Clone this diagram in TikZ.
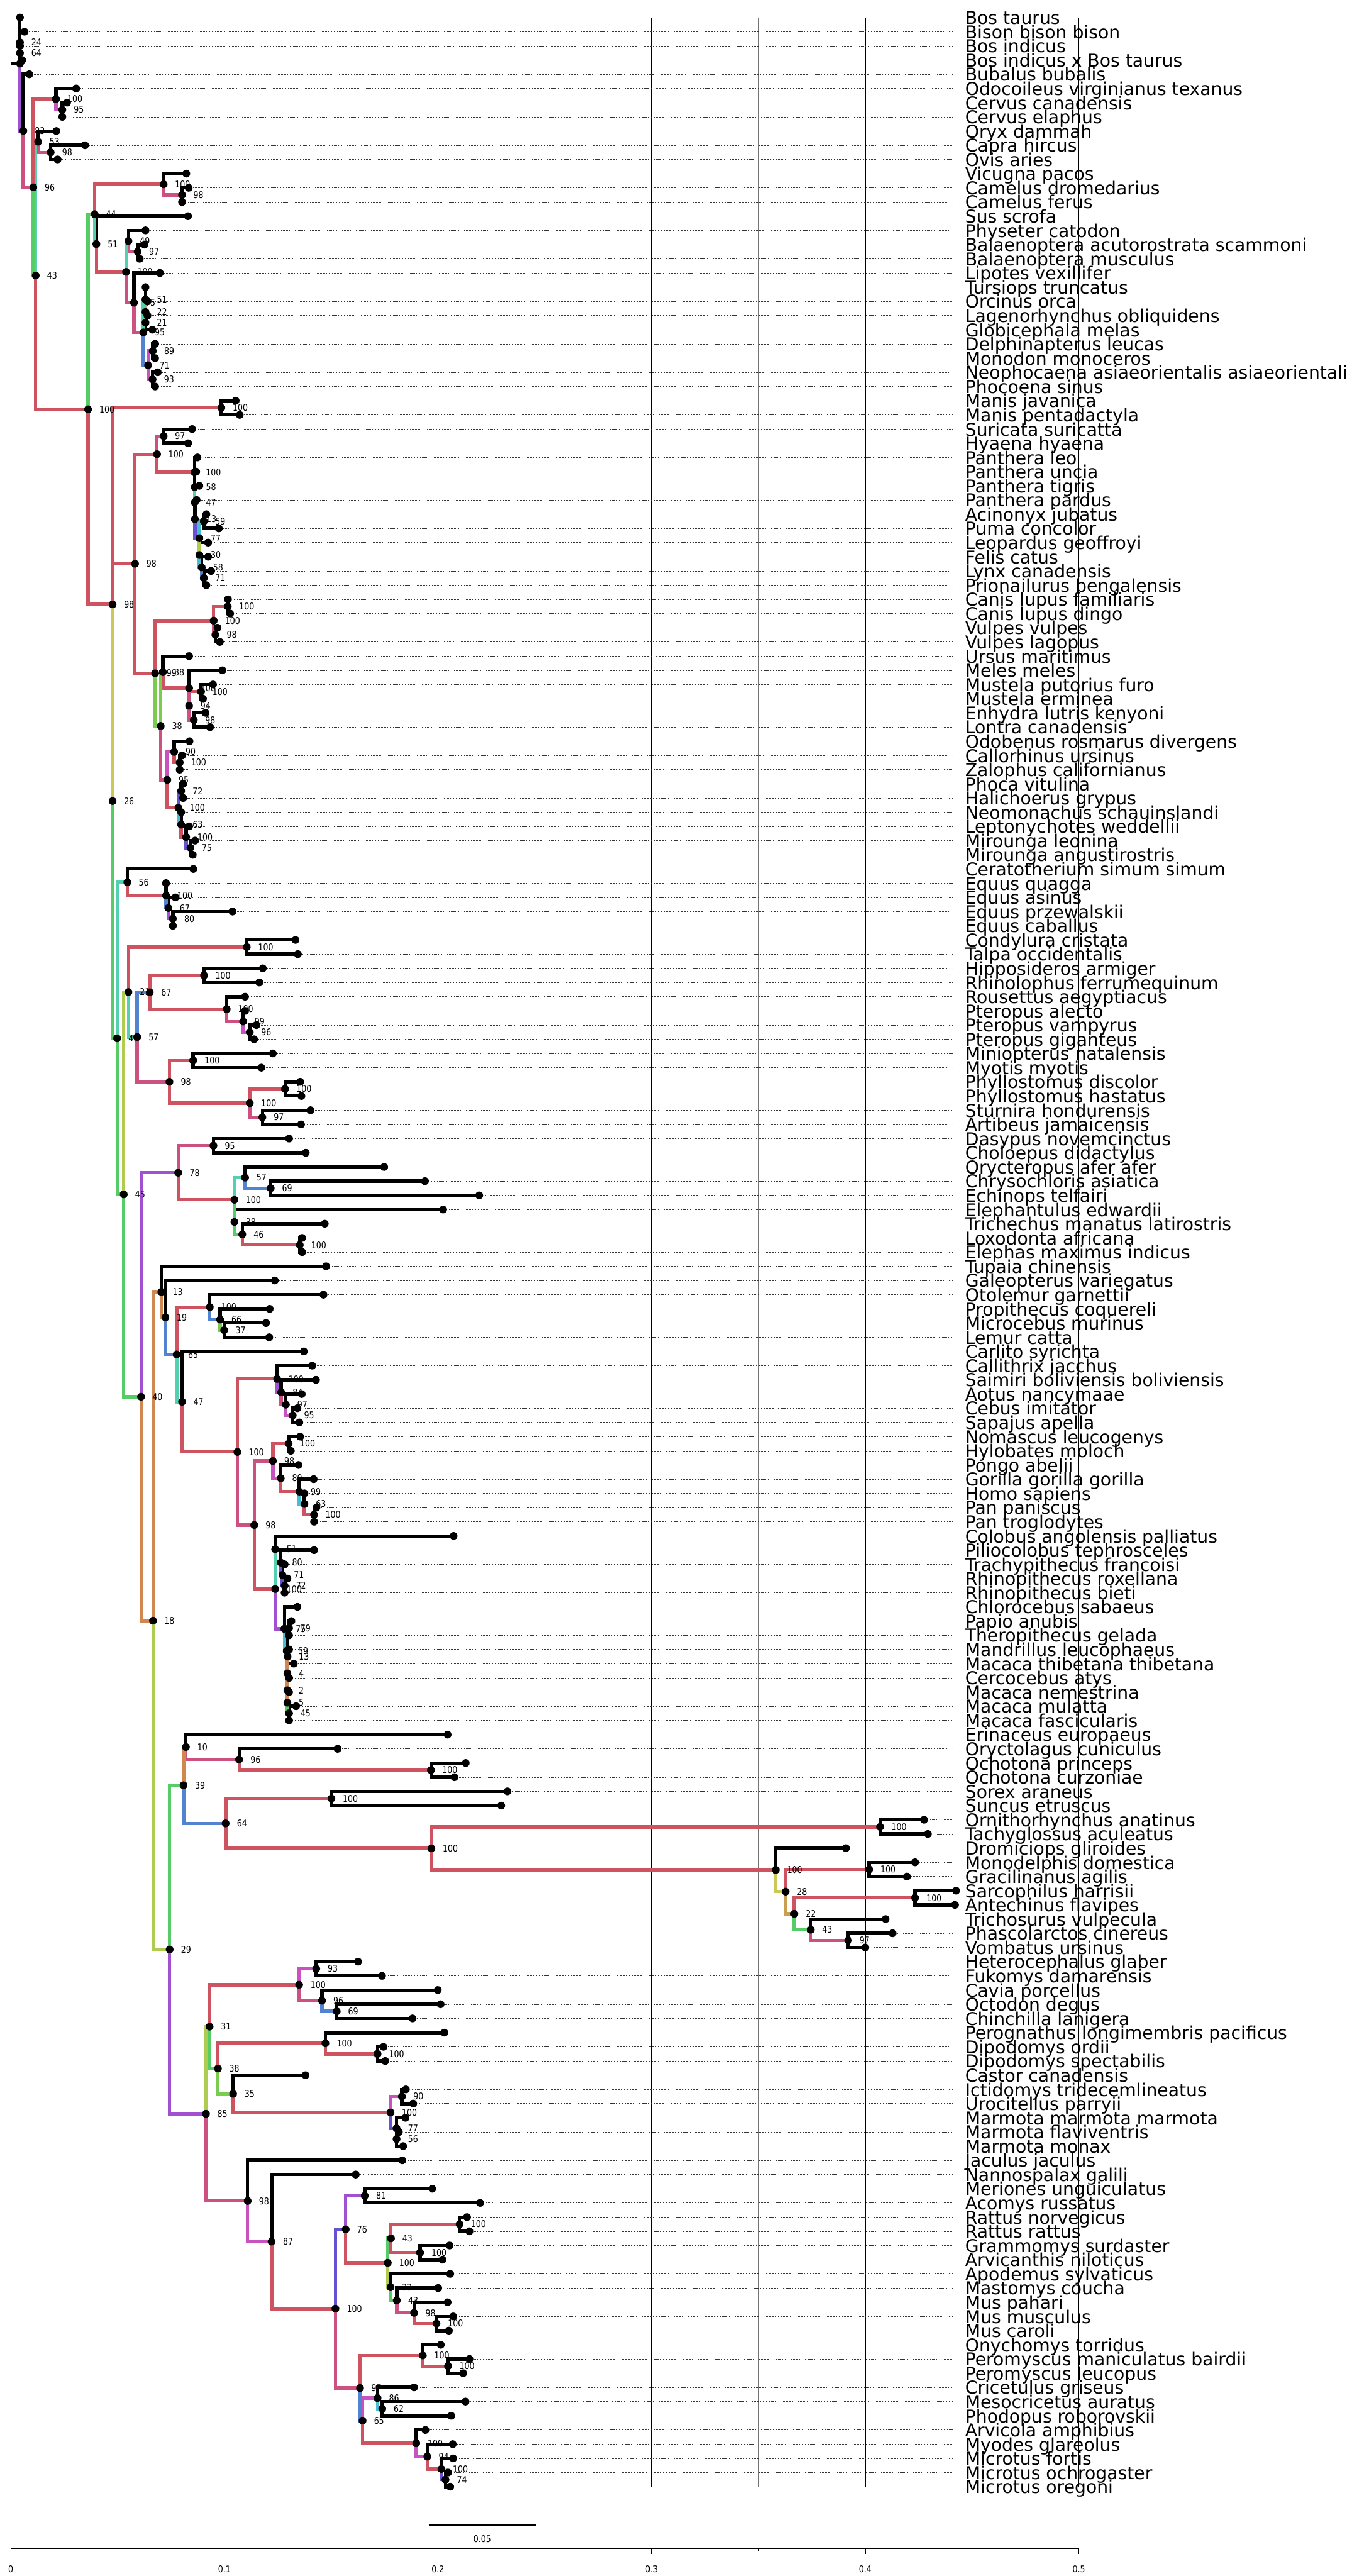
\documentclass[tikz,border=0pt]{standalone}
\usepackage{fontspec}
\setmainfont{DejaVu Sans}
\newfontfamily\supfont[FakeStretch=0.85]{DejaVu Sans}
\definecolor{cR}{HTML}{CD5360}
\definecolor{cP}{HTML}{CC5080}
\definecolor{cM}{HTML}{C852C0}
\definecolor{cV}{HTML}{A050D0}
\definecolor{cB}{HTML}{6652D0}
\definecolor{cBl}{HTML}{5283D0}
\definecolor{cT}{HTML}{52D0B0}
\definecolor{cC}{HTML}{48BCD0}
\definecolor{cG}{HTML}{55CC66}
\definecolor{cLG}{HTML}{7ACC50}
\definecolor{cYG}{HTML}{B0CC50}
\definecolor{cY}{HTML}{CCC855}
\definecolor{cO}{HTML}{D08850}
\definecolor{cGd}{HTML}{C8A050}
\newcounter{row}
% first pass: positions, dotted rows and branches
\newcommand\tipA[3]{%
  \coordinate (#1) at (#2,\therow);
  \expandafter\xdef\csname ky@#1\endcsname{\therow}%
  \expandafter\gdef\csname kc@#1\endcsname{black}%
  \pgfmathsetmacro\xe{max(#2,0.4409)}%
  \draw[rowline] (#1) -- (\xe,\therow);
  \stepcounter{row}}
\newcommand\cladeA[6]{%
  \pgfmathsetmacro\kk{(\csname ky@#5\endcsname+\csname ky@#6\endcsname)/2}%
  \expandafter\xdef\csname ky@#1\endcsname{\kk}%
  \expandafter\gdef\csname kc@#1\endcsname{#3}%
  \coordinate (#1) at (#2,\kk);
  \edef\ca{\csname kc@#5\endcsname}\edef\cb{\csname kc@#6\endcsname}%
  \draw[branch,draw=\ca] (#1) |- (#5);
  \draw[branch,draw=\cb] (#1) |- (#6);}
% second pass: dots and texts
\newcommand\tipB[3]{%
  \fill (#1) circle[radius=0.115cm];
  \node[leaf] (l#1) at (0.44666,\csname ky@#1\endcsname+0.478) {#3};}
\newcommand\cladeB[6]{%
  \fill (#1) circle[radius=0.115cm];
  \node[sup] (s#1) at (#1) {#4};}
\newcommand\treedata{%
\tip{bostau}{0.00434}{Bos taurus}
\tip{bisbis}{0.00646}{Bison bison bison}
\tip{bosind}{0.00434}{Bos indicus}
\tip{bosixt}{0.00535}{Bos indicus x Bos taurus}
\tip{bubbub}{0.00869}{Bubalus bubalis}
\tip{odovir}{0.03062}{Odocoileus virginianus texanus}
\tip{cercan}{0.02639}{Cervus canadensis}
\tip{cerela}{0.02416}{Cervus elaphus}
\tip{orydam}{0.02138}{Oryx dammah}
\tip{caphir}{0.03474}{Capra hircus}
\tip{oviari}{0.02194}{Ovis aries}
\tip{vicpac}{0.08218}{Vicugna pacos}
\tip{camdro}{0.0833}{Camelus dromedarius}
\tip{camfer}{0.0802}{Camelus ferus}
\tip{susscr}{0.08296}{Sus scrofa}
\tip{phycat}{0.0631}{Physeter catodon}
\tip{balacu}{0.0626}{Balaenoptera acutorostrata scammoni}
\tip{balmus}{0.0604}{Balaenoptera musculus}
\tip{lipvex}{0.0698}{Lipotes vexillifer}
\tip{turtru}{0.0631}{Tursiops truncatus}
\tip{orcorc}{0.0640}{Orcinus orca}
\tip{lagobl}{0.0640}{Lagenorhynchus obliquidens}
\tip{glomel}{0.0663}{Globicephala melas}
\tip{delleu}{0.0676}{Delphinapterus leucas}
\tip{monmon}{0.0676}{Monodon monoceros}
\tip{neoasi}{0.0688}{Neophocaena asiaeorientalis asiaeorientalis}
\tip{phosin}{0.0676}{Phocoena sinus}
\tip{manjav}{0.1053}{Manis javanica}
\tip{manpen}{0.1072}{Manis pentadactyla}
\tip{sursur}{0.0849}{Suricata suricatta}
\tip{hyahya}{0.0830}{Hyaena hyaena}
\tip{panleo}{0.0874}{Panthera leo}
\tip{panunc}{0.0868}{Panthera uncia}
\tip{pantig}{0.0883}{Panthera tigris}
\tip{panpar}{0.0870}{Panthera pardus}
\tip{acijub}{0.0916}{Acinonyx jubatus}
\tip{pumcon}{0.0974}{Puma concolor}
\tip{leogeo}{0.0924}{Leopardus geoffroyi}
\tip{felcat}{0.0924}{Felis catus}
\tip{lyncan}{0.0938}{Lynx canadensis}
\tip{priben}{0.0916}{Prionailurus bengalensis}
\tip{canfam}{0.1017}{Canis lupus familiaris}
\tip{candin}{0.1027}{Canis lupus dingo}
\tip{vulvul}{0.0968}{Vulpes vulpes}
\tip{vullag}{0.0979}{Vulpes lagopus}
\tip{ursmar}{0.0835}{Ursus maritimus}
\tip{melmel}{0.0991}{Meles meles}
\tip{musput}{0.0947}{Mustela putorius furo}
\tip{muserm}{0.0900}{Mustela erminea}
\tip{enhlut}{0.0912}{Enhydra lutris kenyoni}
\tip{loncan}{0.0933}{Lontra canadensis}
\tip{odoros}{0.0837}{Odobenus rosmarus divergens}
\tip{calurs}{0.0802}{Callorhinus ursinus}
\tip{zalcal}{0.0791}{Zalophus californianus}
\tip{phovit}{0.0807}{Phoca vitulina}
\tip{halgry}{0.0807}{Halichoerus grypus}
\tip{neosch}{0.0798}{Neomonachus schauinslandi}
\tip{lepwed}{0.0835}{Leptonychotes weddellii}
\tip{mirleo}{0.0863}{Mirounga leonina}
\tip{mirang}{0.0852}{Mirounga angustirostris}
\tip{cersim}{0.0855}{Ceratotherium simum simum}
\tip{eququa}{0.0727}{Equus quagga}
\tip{equasi}{0.0771}{Equus asinus}
\tip{equprz}{0.1038}{Equus przewalskii}
\tip{equcab}{0.0759}{Equus caballus}
\tip{concri}{0.1333}{Condylura cristata}
\tip{talocc}{0.1344}{Talpa occidentalis}
\tip{hiparm}{0.1180}{Hipposideros armiger}
\tip{rhifer}{0.1164}{Rhinolophus ferrumequinum}
\tip{rouaeg}{0.1097}{Rousettus aegyptiacus}
\tip{pteale}{0.1097}{Pteropus alecto}
\tip{ptevam}{0.1150}{Pteropus vampyrus}
\tip{ptegig}{0.1139}{Pteropus giganteus}
\tip{minnat}{0.1227}{Miniopterus natalensis}
\tip{myomyo}{0.1173}{Myotis myotis}
\tip{phydis}{0.1355}{Phyllostomus discolor}
\tip{phyhas}{0.1361}{Phyllostomus hastatus}
\tip{stuhon}{0.1403}{Sturnira hondurensis}
\tip{artjam}{0.1359}{Artibeus jamaicensis}
\tip{dasnov}{0.1303}{Dasypus novemcinctus}
\tip{choldi}{0.1381}{Choloepus didactylus}
\tip{oryafe}{0.1748}{Orycteropus afer afer}
\tip{chrasi}{0.1939}{Chrysochloris asiatica}
\tip{echtel}{0.2193}{Echinops telfairi}
\tip{eleedw}{0.2024}{Elephantulus edwardii}
\tip{trimam}{0.1470}{Trichechus manatus latirostris}
\tip{loxafr}{0.1364}{Loxodonta africana}
\tip{elemax}{0.1364}{Elephas maximus indicus}
\tip{tupchi}{0.1476}{Tupaia chinensis}
\tip{galvar}{0.1236}{Galeopterus variegatus}
\tip{otogar}{0.1464}{Otolemur garnettii}
\tip{procoq}{0.1212}{Propithecus coquereli}
\tip{micmur}{0.1195}{Microcebus murinus}
\tip{lemcat}{0.1210}{Lemur catta}
\tip{carsyr}{0.1372}{Carlito syrichta}
\tip{caljac}{0.1411}{Callithrix jacchus}
\tip{saibol}{0.1429}{Saimiri boliviensis boliviensis}
\tip{aotnan}{0.1362}{Aotus nancymaae}
\tip{cebimi}{0.1342}{Cebus imitator}
\tip{sapape}{0.1351}{Sapajus apella}
\tip{nomleu}{0.1355}{Nomascus leucogenys}
\tip{hylmol}{0.1311}{Hylobates moloch}
\tip{ponabe}{0.1347}{Pongo abelii}
\tip{gorgor}{0.1418}{Gorilla gorilla gorilla}
\tip{homsap}{0.1375}{Homo sapiens}
\tip{panpan}{0.1431}{Pan paniscus}
\tip{pantro}{0.1420}{Pan troglodytes}
\tip{colang}{0.2073}{Colobus angolensis palliatus}
\tip{piltep}{0.1420}{Piliocolobus tephrosceles}
\tip{trafra}{0.1282}{Trachypithecus francoisi}
\tip{rhirox}{0.1295}{Rhinopithecus roxellana}
\tip{rhibie}{0.1282}{Rhinopithecus bieti}
\tip{chlsab}{0.1342}{Chlorocebus sabaeus}
\tip{papanu}{0.1314}{Papio anubis}
\tip{thegel}{0.1303}{Theropithecus gelada}
\tip{manleu}{0.1303}{Mandrillus leucophaeus}
\tip{macthi}{0.1325}{Macaca thibetana thibetana}
\tip{ceraty}{0.1303}{Cercocebus atys}
\tip{macnem}{0.1303}{Macaca nemestrina}
\tip{macmul}{0.1336}{Macaca mulatta}
\tip{macfas}{0.1303}{Macaca fascicularis}
\tip{erieur}{0.2045}{Erinaceus europaeus}
\tip{orycun}{0.1530}{Oryctolagus cuniculus}
\tip{ochpri}{0.2130}{Ochotona princeps}
\tip{ochcur}{0.2077}{Ochotona curzoniae}
\tip{sorara}{0.2325}{Sorex araneus}
\tip{sunetr}{0.2296}{Suncus etruscus}
\tip{ornana}{0.4275}{Ornithorhynchus anatinus}
\tip{tacacu}{0.4293}{Tachyglossus aculeatus}
\tip{drogli}{0.3909}{Dromiciops gliroides}
\tip{mondom}{0.4233}{Monodelphis domestica}
\tip{graagi}{0.4195}{Gracilinanus agilis}
\tip{sarhar}{0.4425}{Sarcophilus harrisii}
\tip{antfla}{0.4420}{Antechinus flavipes}
\tip{trivul}{0.4095}{Trichosurus vulpecula}
\tip{phacin}{0.4128}{Phascolarctos cinereus}
\tip{vomurs}{0.4000}{Vombatus ursinus}
\tip{hetgla}{0.1626}{Heterocephalus glaber}
\tip{fukdam}{0.1738}{Fukomys damarensis}
\tip{cavpor}{0.1999}{Cavia porcellus}
\tip{octdeg}{0.2012}{Octodon degus}
\tip{chilan}{0.1881}{Chinchilla lanigera}
\tip{perlon}{0.2030}{Perognathus longimembris pacificus}
\tip{dipord}{0.1745}{Dipodomys ordii}
\tip{dipspe}{0.1753}{Dipodomys spectabilis}
\tip{cascan}{0.1380}{Castor canadensis}
\tip{ictitr}{0.1850}{Ictidomys tridecemlineatus}
\tip{uropar}{0.1884}{Urocitellus parryii}
\tip{marmar}{0.1848}{Marmota marmota marmota}
\tip{marfla}{0.1817}{Marmota flaviventris}
\tip{marmon}{0.1837}{Marmota monax}
\tip{jacjac}{0.1833}{Jaculus jaculus}
\tip{nangal}{0.1615}{Nannospalax galili}
\tip{merung}{0.1973}{Meriones unguiculatus}
\tip{acorus}{0.2197}{Acomys russatus}
\tip{ratnor}{0.2136}{Rattus norvegicus}
\tip{ratrat}{0.2147}{Rattus rattus}
\tip{grasur}{0.2054}{Grammomys surdaster}
\tip{arvnil}{0.2021}{Arvicanthis niloticus}
\tip{aposyl}{0.2057}{Apodemus sylvaticus}
\tip{mascou}{0.2001}{Mastomys coucha}
\tip{muspah}{0.2045}{Mus pahari}
\tip{musmus}{0.2071}{Mus musculus}
\tip{muscar}{0.2051}{Mus caroli}
\tip{onytor}{0.2013}{Onychomys torridus}
\tip{perman}{0.2147}{Peromyscus maniculatus bairdii}
\tip{perleu}{0.2118}{Peromyscus leucopus}
\tip{crigri}{0.1888}{Cricetulus griseus}
\tip{mesaur}{0.2129}{Mesocricetus auratus}
\tip{phorob}{0.2062}{Phodopus roborovskii}
\tip{arvamp}{0.1941}{Arvicola amphibius}
\tip{myogla}{0.2069}{Myodes glareolus}
\tip{micfor}{0.2071}{Microtus fortis}
\tip{micoch}{0.2047}{Microtus ochrogaster}
\tip{micore}{0.2057}{Microtus oregoni}
\clade{n64}{0.00434}{black}{64}{bosind}{bosixt}
\clade{n24}{0.00434}{black}{24}{bisbis}{n64}
\clade{n95c}{0.02416}{cM}{95}{cercan}{cerela}
\clade{n100cv}{0.02116}{cR}{100}{odovir}{n95c}
\clade{n98cp}{0.01871}{cP}{98}{caphir}{oviari}
\clade{n53}{0.01281}{cT}{53}{orydam}{n98cp}
\clade{n98cm}{0.0802}{cP}{98}{camdro}{camfer}
\clade{n100cm}{0.0716}{cR}{100}{vicpac}{n98cm}
\clade{n97bl}{0.0594}{cP}{97}{balacu}{balmus}
\clade{n49}{0.0551}{cT}{49}{phycat}{n97bl}
\clade{n21}{0.0631}{cT}{21}{lagobl}{glomel}
\clade{n22}{0.0631}{cGd}{22}{orcorc}{n21}
\clade{n51d}{0.0631}{cT}{51}{turtru}{n22}
\clade{n89}{0.0665}{cM}{89}{delleu}{monmon}
\clade{n93}{0.0664}{cM}{93}{neoasi}{phosin}
\clade{n71d}{0.0643}{cBl}{71}{n89}{n93}
\clade{n95d}{0.0621}{cP}{95}{n51d}{n71d}
\clade{n75w}{0.0577}{cP}{75}{lipvex}{n95d}
\clade{n100w}{0.0540}{cR}{100}{n49}{n75w}
\clade{n51s}{0.0401}{cT}{51}{susscr}{n100w}
\clade{n44}{0.0393}{cG}{44}{n100cm}{n51s}
\clade{n97h}{0.0716}{cP}{97}{sursur}{hyahya}
\clade{n71f}{0.0904}{cBl}{71}{lyncan}{priben}
\clade{n58f}{0.0894}{cC}{58}{felcat}{n71f}
\clade{n30f}{0.0883}{cYG}{30}{leogeo}{n58f}
\clade{n59f}{0.0904}{cC}{59}{acijub}{pumcon}
\clade{n77f}{0.0883}{cB}{77}{n59f}{n30f}
\clade{n13f}{0.0862}{black}{13}{panpar}{n77f}
\clade{n47f}{0.0861}{cT}{47}{pantig}{n13f}
\clade{n58p}{0.0861}{black}{58}{panunc}{n47f}
\clade{n100fl}{0.0860}{cR}{100}{panleo}{n58p}
\clade{n100fe}{0.0685}{cR}{100}{n97h}{n100fl}
\clade{n100cl}{0.1016}{cR}{100}{canfam}{candin}
\clade{n98v}{0.0958}{cP}{98}{vulvul}{vullag}
\clade{n100cn}{0.0950}{cR}{100}{n100cl}{n98v}
\clade{n100ms}{0.0891}{cR}{100}{musput}{muserm}
\clade{n98lt}{0.0857}{cP}{98}{enhlut}{loncan}
\clade{n94m}{0.0835}{cP}{94}{n100ms}{n98lt}
\clade{n100mt}{0.0835}{cR}{100}{melmel}{n94m}
\clade{n38a}{0.0712}{cLG}{38}{ursmar}{n100mt}
\clade{n100ot}{0.0791}{cR}{100}{calurs}{zalcal}
\clade{n90o}{0.0765}{cM}{90}{odoros}{n100ot}
\clade{n75mi}{0.0841}{cB}{75}{mirleo}{mirang}
\clade{n100lm}{0.0821}{cR}{100}{lepwed}{n75mi}
\clade{n63p}{0.0798}{cC}{63}{neosch}{n100lm}
\clade{n72p}{0.0798}{cB}{72}{phovit}{halgry}
\clade{n100ph}{0.0785}{cR}{100}{n72p}{n63p}
\clade{n95pn}{0.0733}{cP}{95}{n90o}{n100ph}
\clade{n38b}{0.0702}{cLG}{38}{n38a}{n95pn}
\clade{n99cf}{0.0676}{cR}{99}{n100cn}{n38b}
\clade{n98cr}{0.0582}{cR}{98}{n100fe}{n99cf}
\clade{n100mn}{0.0986}{cR}{100}{manjav}{manpen}
\clade{n80e}{0.0759}{cV}{80}{equprz}{equcab}
\clade{n67e}{0.0738}{cBl}{67}{equasi}{n80e}
\clade{n100e}{0.0727}{cR}{100}{eququa}{n67e}
\clade{n56}{0.0546}{cT}{56}{cersim}{n100e}
\clade{n100ta}{0.1105}{cR}{100}{concri}{talocc}
\clade{n100rh}{0.0905}{cR}{100}{hiparm}{rhifer}
\clade{n96pt}{0.1119}{cM}{96}{ptevam}{ptegig}
\clade{n99pt}{0.1088}{cP}{99}{pteale}{n96pt}
\clade{n100pt}{0.1011}{cR}{100}{rouaeg}{n99pt}
\clade{n67b}{0.0651}{cBl}{67}{n100rh}{n100pt}
\clade{n100ve}{0.0854}{cR}{100}{minnat}{myomyo}
\clade{n100py}{0.1284}{cR}{100}{phydis}{phyhas}
\clade{n97st}{0.1178}{cP}{97}{stuhon}{artjam}
\clade{n100ps}{0.1119}{cR}{100}{n100py}{n97st}
\clade{n98b}{0.0743}{cP}{98}{n100ve}{n100ps}
\clade{n57b}{0.0592}{cT}{57}{n67b}{n98b}
\clade{n2x}{0.0551}{cYG}{21}{n100ta}{n57b}
\clade{n95x}{0.0949}{cP}{95}{dasnov}{choldi}
\clade{n69a}{0.1217}{cBl}{69}{chrasi}{echtel}
\clade{n57a}{0.1097}{cT}{57}{oryafe}{n69a}
\clade{n100pr}{0.1353}{cR}{100}{loxafr}{elemax}
\clade{n46}{0.1084}{cG}{46}{trimam}{n100pr}
\clade{n38f}{0.1047}{cG}{38}{eleedw}{n46}
\clade{n100af}{0.1047}{cR}{100}{n57a}{n38f}
\clade{n78}{0.0784}{cV}{78}{n95x}{n100af}
\clade{n37}{0.0999}{cLG}{37}{micmur}{lemcat}
\clade{n66}{0.0980}{cBl}{66}{procoq}{n37}
\clade{n100s}{0.0932}{cR}{100}{otogar}{n66}
\clade{n95pl}{0.1320}{cM}{95}{cebimi}{sapape}
\clade{n97pl}{0.1288}{cP}{97}{aotnan}{n95pl}
\clade{n8x}{0.1266}{cV}{84}{saibol}{n97pl}
\clade{n100pl}{0.1247}{cR}{100}{caljac}{n8x}
\clade{n100gb}{0.1301}{cR}{100}{nomleu}{hylmol}
\clade{n100pa}{0.1420}{cR}{100}{panpan}{pantro}
\clade{n63h}{0.1375}{cC}{63}{homsap}{n100pa}
\clade{n99h}{0.1351}{cR}{99}{gorgor}{n63h}
\clade{n80h}{0.1264}{cM}{80}{ponabe}{n99h}
\clade{n98hm}{0.1227}{cP}{98}{n100gb}{n80h}
\clade{n72r}{0.1282}{cB}{72}{rhirox}{rhibie}
\clade{n71c}{0.1272}{cB}{71}{trafra}{n72r}
\clade{n80c}{0.1264}{cT}{80}{piltep}{n71c}
\clade{n51c}{0.1238}{cT}{51}{colang}{n80c}
\clade{n45m}{0.1303}{cG}{45}{macmul}{macfas}
\clade{n5m}{0.1295}{cO}{5}{macnem}{n45m}
\clade{n2m}{0.1295}{cO}{2}{ceraty}{n5m}
\clade{n13m}{0.1296}{black}{13}{manleu}{macthi}
\clade{n4m}{0.1295}{cO}{4}{n13m}{n2m}
\clade{n79m}{0.1303}{black}{79}{papanu}{thegel}
\clade{n59m}{0.1292}{cC}{59}{n79m}{n4m}
\clade{n75c}{0.1281}{cV}{75}{chlsab}{n59m}
\clade{n100cc}{0.1238}{cR}{100}{n51c}{n75c}
\clade{n98ct}{0.1140}{cP}{98}{n98hm}{n100cc}
\clade{n100an}{0.1061}{cR}{100}{n100pl}{n98ct}
\clade{n47p}{0.0802}{cT}{47}{carsyr}{n100an}
\clade{n65p}{0.0777}{cBl}{65}{n100s}{n47p}
\clade{n19}{0.0724}{cO}{19}{galvar}{n65p}
\clade{n13e}{0.0705}{cO}{13}{tupchi}{n19}
\clade{n100oc}{0.1967}{cR}{100}{ochpri}{ochcur}
\clade{n96l}{0.1069}{cP}{96}{orycun}{n100oc}
\clade{n10}{0.0820}{cO}{10}{erieur}{n96l}
\clade{n100sx}{0.1501}{cR}{100}{sorara}{sunetr}
\clade{n100mo}{0.4069}{cR}{100}{ornana}{tacacu}
\clade{n97ma}{0.3920}{cP}{97}{phacin}{vomurs}
\clade{n43ma}{0.3745}{cG}{43}{trivul}{n97ma}
\clade{n100ds}{0.4233}{cR}{100}{sarhar}{antfla}
\clade{n22ma}{0.3668}{cGd}{22}{n100ds}{n43ma}
\clade{n100dd}{0.4018}{cR}{100}{mondom}{graagi}
\clade{n28}{0.3627}{cY}{28}{n100dd}{n22ma}
\clade{n100ma}{0.3581}{cR}{100}{drogli}{n28}
\clade{n100mm}{0.1969}{cR}{100}{n100mo}{n100ma}
\clade{n64l}{0.1006}{cBl}{64}{n100sx}{n100mm}
\clade{n39}{0.0809}{cG}{39}{n10}{n64l}
\clade{n93r}{0.1430}{cM}{93}{hetgla}{fukdam}
\clade{n69r}{0.1526}{cBl}{69}{octdeg}{chilan}
\clade{n96r}{0.1457}{cP}{96}{cavpor}{n69r}
\clade{n100hy}{0.1350}{cR}{100}{n93r}{n96r}
\clade{n100dp}{0.1717}{cR}{100}{dipord}{dipspe}
\clade{n100ht}{0.1473}{cR}{100}{perlon}{n100dp}
\clade{n90s}{0.1831}{cM}{90}{ictitr}{uropar}
\clade{n56s}{0.1806}{black}{56}{marfla}{marmon}
\clade{n77s}{0.1806}{cB}{77}{marmar}{n56s}
\clade{n100sq}{0.1778}{cR}{100}{n90s}{n77s}
\clade{n35}{0.1041}{cLG}{35}{cascan}{n100sq}
\clade{n38r}{0.0970}{cG}{38}{n100ht}{n35}
\clade{n31}{0.0931}{cYG}{31}{n100hy}{n38r}
\clade{n81}{0.1657}{cV}{81}{merung}{acorus}
\clade{n100rt}{0.2101}{cR}{100}{ratnor}{ratrat}
\clade{n100ga}{0.1916}{cR}{100}{grasur}{arvnil}
\clade{n43r}{0.1780}{cG}{43}{n100rt}{n100ga}
\clade{n100mu}{0.1993}{cR}{100}{musmus}{muscar}
\clade{n98mu}{0.1888}{cP}{98}{muspah}{n100mu}
\clade{n43mu}{0.1807}{cG}{43}{mascou}{n98mu}
\clade{n33}{0.1778}{cYG}{33}{aposyl}{n43mu}
\clade{n100mr}{0.1765}{cR}{100}{n43r}{n33}
\clade{n76}{0.1568}{cB}{76}{n81}{n100mr}
\clade{n100pe}{0.2047}{cR}{100}{perman}{perleu}
\clade{n100on}{0.1929}{cR}{100}{onytor}{n100pe}
\clade{n62}{0.1739}{cC}{62}{mesaur}{phorob}
\clade{n86}{0.1717}{cM}{86}{crigri}{n62}
\clade{n74}{0.2035}{cB}{74}{micoch}{micore}
\clade{n100mc}{0.2016}{cR}{100}{micfor}{n74}
\clade{n94a}{0.1950}{cM}{94}{myogla}{n100mc}
\clade{n100av}{0.1898}{cR}{100}{arvamp}{n94a}
\clade{n65c}{0.1647}{cBl}{65}{n86}{n100av}
\clade{n9x}{0.1635}{cP}{97}{n100on}{n65c}
\clade{n100my}{0.1520}{cR}{100}{n76}{n9x}
\clade{n87}{0.1221}{cM}{87}{nangal}{n100my}
\clade{n98r}{0.1109}{cP}{98}{jacjac}{n87}
\clade{n85}{0.0914}{cV}{85}{n31}{n98r}
\clade{n29}{0.0744}{cYG}{29}{n39}{n85}
\clade{n18}{0.0666}{cO}{18}{n13e}{n29}
\clade{n40}{0.0610}{cG}{40}{n78}{n18}
\clade{n45}{0.0529}{cG}{45}{n2x}{n40}
\clade{n4x}{0.0498}{cG}{49}{n56}{n45}
\clade{n26}{0.0477}{cY}{26}{n98cr}{n4x}
\clade{n98}{0.0477}{cR}{98}{n100mn}{n26}
\clade{n100l}{0.0362}{cR}{100}{n44}{n98}
\clade{n43}{0.0117}{cG}{43}{n53}{n100l}
\clade{n96}{0.0106}{cP}{96}{n100cv}{n43}
\clade{n83}{0.0059}{cV}{83}{bubbub}{n96}
}
\begin{document}
\begin{tikzpicture}[x=63.01cm,y=-0.4185cm,
  branch/.style={line width=0.1cm},
  rowline/.style={line width=0.012cm,black!80,dash pattern=on 0.02cm off 0.025cm},
  leaf/.style={anchor=base west,inner sep=0pt,font=\fontsize{14.9}{18}\selectfont},
  sup/.style={anchor=west,inner sep=0pt,xshift=0.33cm,font=\supfont\fontsize{7.8}{9}\selectfont},
  ticklab/.style={inner sep=0pt,font=\supfont\fontsize{7.8}{9}\selectfont}]
\useasboundingbox (-0.316cm,0.517cm) rectangle (39.404cm,-75.453cm);
\foreach \g in {0,0.1,0.2,0.3,0.4,0.5} \draw[line width=0.015cm] (\g,0) -- (\g,174);
\foreach \g in {0.05,0.15,0.25,0.35,0.45} \draw[line width=0.012cm,black!55] (\g,0) -- (\g,174);
\let\tip\tipA \let\clade\cladeA
\setcounter{row}{0}
\treedata
\pgfmathsetmacro\kr{(\csname ky@bostau\endcsname+\csname ky@n24\endcsname+\csname ky@n83\endcsname)/3}
\coordinate (root) at (0.00434,\kr);
\coordinate (base) at (0,\kr);
\draw[branch,cV] (root) |- (n83);
\draw[branch,black] (root) |- (n24);
\draw[branch,black] (root) |- (bostau);
\draw[branch,black] (base) -- (root);
\let\tip\tipB \let\clade\cladeB
\treedata
\fill (root) circle[radius=0.115cm];
\draw[line width=0.035cm] (0.1956,176.7) coordinate (sbl) -- (0.2458,176.7) coordinate (sbr);
\node[ticklab] (sblab) at (0.2207,177.66) {0.05};
\draw[line width=0.035cm] (0,178.33) coordinate (ax0) -- (0.5,178.33) coordinate (ax1);
\foreach \t/\l [count=\i] in {0/0,0.1/0.1,0.2/0.2,0.3/0.3,0.4/0.4,0.5/0.5} {
  \draw[line width=0.012cm] (\t,178.33) -- (\t,178.74);
  \node[ticklab] (tick\i) at (\t,179.82) {\l};
}
\foreach \t in {0.05,0.15,0.25,0.35,0.45} \draw[line width=0.012cm] (\t,178.33) -- (\t,178.53);
\end{tikzpicture}
\end{document}
